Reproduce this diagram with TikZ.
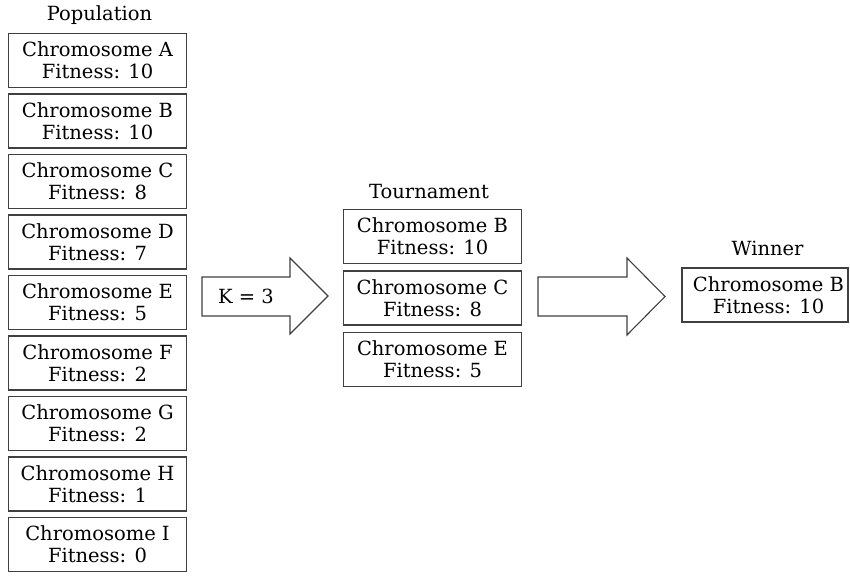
\documentclass[tikz,border=0pt]{standalone}
\usepackage{fontspec}
\setmainfont{DejaVu Serif}
\begin{document}
\begin{tikzpicture}[x=1pt,y=-1pt,
  label font/.style={font=\fontsize{19.5}{22}\selectfont},
  chrom/.style={draw=black!75, line width=1.1pt, align=center, inner sep=0pt,
    minimum width=178pt, minimum height=54pt, label font},
  heading/.style={label font},
  plain text/.style={align=center, inner sep=0pt, label font},
  blockarrow/.style={draw=black!75, line width=1.1pt, fill=white, line join=miter}]
\useasboundingbox (0,0) rectangle (850,576);

% population column
\node[heading] (pophead) at (99.5,15) {Population};
\node[chrom] (pa) at (97.5,60.5)  {Chromosome A\\Fitness: 10};
\node[chrom] (pb) at (97.5,121)   {Chromosome B\\Fitness: 10};
\node[chrom] (pc) at (97.5,181.5) {Chromosome C\\Fitness: 8};
\node[chrom] (pd) at (97.5,242)   {Chromosome D\\Fitness: 7};
\node[chrom] (pe) at (97.5,302.5) {Chromosome E\\Fitness: 5};
\node[chrom] (pf) at (97.5,363)   {Chromosome F\\Fitness: 2};
\node[chrom] (pg) at (97.5,423.5) {Chromosome G\\Fitness: 2};
\node[chrom] (ph) at (97.5,484)   {Chromosome H\\Fitness: 1};
\node[chrom] (pi) at (97.5,544.5) {Chromosome I\\Fitness: 0};

% selection arrow
\draw[blockarrow] (202,277) -- (290,277) -- (290,258) -- (328,296)
  -- (290,334) -- (290,316) -- (202,316) -- cycle;
\node[heading] (karrow) at (246,296.5) {K = 3};

% tournament column
\node[heading] (tourhead) at (429,192) {Tournament};
\node[chrom] (tb) at (432.5,236.5) {Chromosome B\\Fitness: 10};
\node[chrom] (tc) at (432.5,298)   {Chromosome C\\Fitness: 8};
\node[chrom] (te) at (432.5,359.5) {Chromosome E\\Fitness: 5};

% winner arrow
\draw[blockarrow] (538,277) -- (627,277) -- (627,258) -- (665,296.5)
  -- (627,335) -- (627,316) -- (538,316) -- cycle;

% winner
\node[heading] (winhead) at (767.5,248) {Winner};
\node[chrom, minimum width=166pt] (win) at (765,295) {};
\node[plain text] (wintext) at (768.5,295) {Chromosome B\\Fitness: 10};
\end{tikzpicture}
\end{document}
